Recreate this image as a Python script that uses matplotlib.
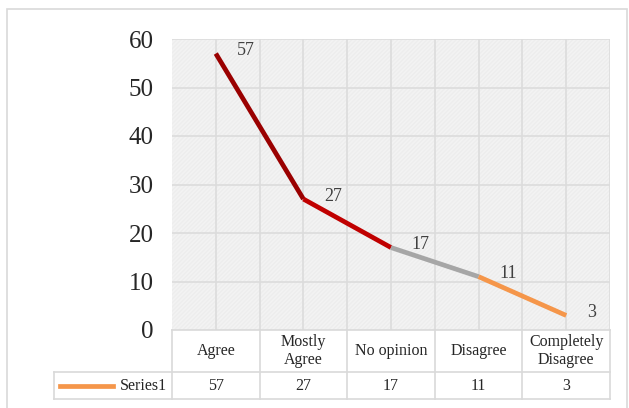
import matplotlib.pyplot as plt
from matplotlib.patches import Rectangle

categories = ["Agree", "Mostly\nAgree", "No opinion", "Disagree", "Completely\nDisagree"]
values = [57, 27, 17, 11, 3]
segment_colors = ["#9A0000", "#C00000", "#A6A6A6", "#F5964A"]
series_name = "Series1"

plt.rcParams["font.family"] = ["Liberation Serif", "DejaVu Serif"]

fig = plt.figure(figsize=(6.29, 4.08), dpi=100)
fig.patches.append(Rectangle((7 / 629, -0.01), 620 / 629, 1 - 9 / 408 + 0.01,
                             transform=fig.transFigure, fill=False,
                             edgecolor="#D9D9D9", linewidth=1.2))

ax = fig.add_axes([172 / 629, 1 - 330 / 408, 438 / 629, 291 / 408])
ax.set_facecolor("#F3F3F3")
ax.add_patch(Rectangle((0, 0), 1, 1, transform=ax.transAxes, facecolor="none",
                       hatch="////////", edgecolor="#EDEDED", linewidth=0, zorder=0))

x = list(range(len(values)))
ax.set_xlim(-0.5, len(values) - 0.5)
ax.set_ylim(0, 60)
ax.set_yticks(range(0, 61, 10))
ax.set_xticks([])

# grid: horizontal at each tick, vertical at category centres and boundaries
for yv in range(10, 61, 10):
    ax.axhline(yv, color="#DCDCDC", linewidth=1.2, zorder=1)
for i in range(len(values)):
    ax.axvline(i, color="#DCDCDC", linewidth=1.2, zorder=1)
    ax.axvline(i + 0.5, color="#DCDCDC", linewidth=1.2, zorder=1)

for i, c in enumerate(segment_colors):
    ax.plot(x[i:i + 2], values[i:i + 2], color=c, linewidth=3.4,
            solid_capstyle="butt", zorder=3)

for xi, v in zip(x, values):
    ax.annotate(str(v), (xi, v), xytext=(15, 2), textcoords="offset points",
                fontsize=13, color="#404040", ha="left", va="center")

for s in ax.spines.values():
    s.set_visible(False)
ax.tick_params(axis="y", length=0, pad=13, labelsize=18, labelcolor="#262626")

# data table under the plot
tr = ax.get_xaxis_transform()
r1 = -42 / 291
r2 = -69 / 291
left = -1.85
lc = "#D9D9D9"
for yy, x0 in [(0, -0.5), (r1, left), (r2, left)]:
    ax.plot([x0, 4.5], [yy, yy], transform=tr, color=lc, lw=1.2, clip_on=False)
for i in range(len(values) + 1):
    ax.plot([i - 0.5, i - 0.5], [0, r2], transform=tr, color=lc, lw=1.2, clip_on=False)
ax.plot([left, left], [r1, r2], transform=tr, color=lc, lw=1.2, clip_on=False)

for i, (cat, v) in enumerate(zip(categories, values)):
    ax.text(i, r1 / 2, cat, transform=tr, ha="center", va="center",
            fontsize=11.5, color="#262626", linespacing=1.1)
    ax.text(i, (r1 + r2) / 2, str(v), transform=tr, ha="center", va="center",
            fontsize=11.5, color="#262626")

ax.plot([left + 0.07, left + 0.68], [(r1 + r2) / 2] * 2, transform=tr,
        color=segment_colors[-1], lw=3.4, clip_on=False)
ax.text(-0.56, (r1 + r2) / 2, series_name, transform=tr, ha="right", va="center",
        fontsize=11.5, color="#262626")

fig.savefig("out.png", dpi=100)
